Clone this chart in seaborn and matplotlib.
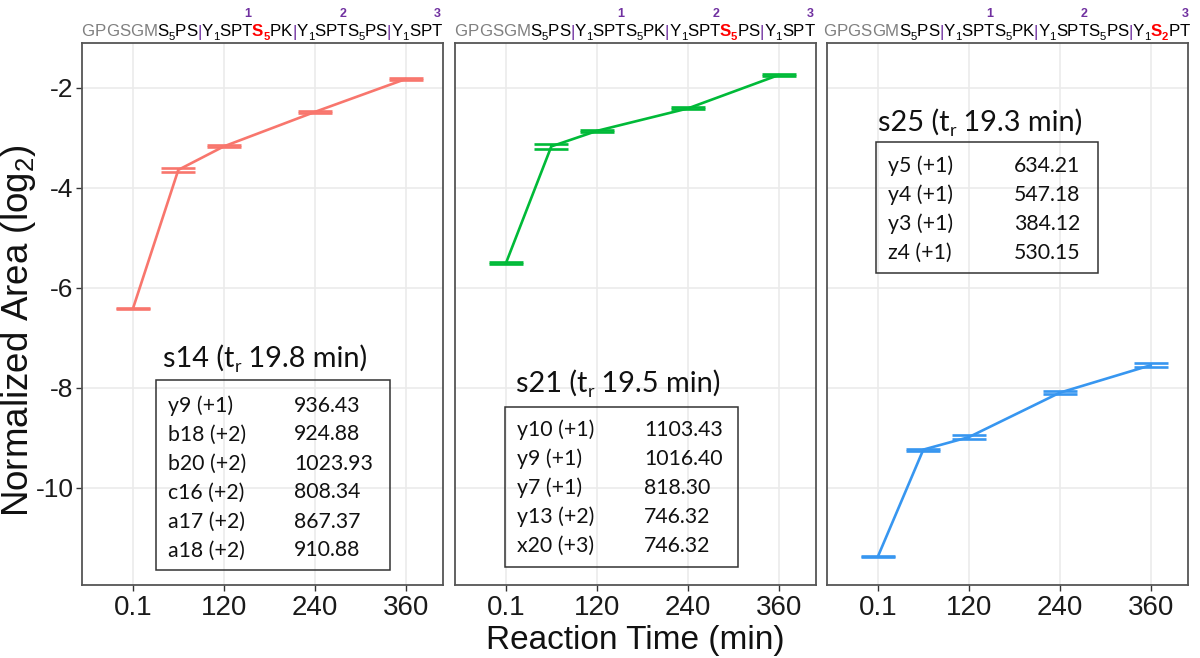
import matplotlib
matplotlib.use("Agg")
import matplotlib.pyplot as plt
import seaborn as sns
import pandas as pd
from matplotlib import font_manager as fm
from matplotlib.patches import Rectangle

# ---------------- data ----------------
times = [0.1, 60, 120, 240, 360]
xticks = [0.1, 120, 240, 360]
xticklabels = ["0.1", "120", "240", "360"]
yticks = [-2, -4, -6, -8, -10]

s14_mean = [-6.42, -3.64, -3.17, -2.48, -1.82]
s14_sd = [0.012, 0.035, 0.02, 0.02, 0.02]
s21_mean = [-5.51, -3.17, -2.86, -2.41, -1.74]
s21_sd = [0.02, 0.05, 0.02, 0.02, 0.02]
s25_mean = [-11.38, -9.24, -8.99, -8.10, -7.55]
s25_sd = [0.012, 0.02, 0.04, 0.035, 0.035]

peptides = ["s14", "s21", "s25"]
ret_times = ["19.8", "19.5", "19.3"]
colors = ["#F8766D", "#00BA38", "#3796F0"]

s14_ions = ["y9 (+1)", "b18 (+2)", "b20 (+2)", "c16 (+2)", "a17 (+2)", "a18 (+2)"]
s14_mz = ["936.43", "924.88", "1023.93", "808.34", "867.37", "910.88"]
s21_ions = ["y10 (+1)", "y9 (+1)", "y7 (+1)", "y13 (+2)", "x20 (+3)"]
s21_mz = ["1103.43", "1016.40", "818.30", "746.32", "746.32"]
s25_ions = ["y5 (+1)", "y4 (+1)", "y3 (+1)", "z4 (+1)"]
s25_mz = ["634.21", "547.18", "384.12", "530.15"]

seq_tokens = ["G", "P", "G", "S", "G", "M", "S5", "P", "S", "|",
              "Y1", "S", "P", "T", "S5", "P", "K", "|",
              "Y1", "S", "P", "T", "S5", "P", "S", "|",
              "Y1", "S", "P", "T"]
n_gray = 6
repeat_marks = {13: "1", 21: "2", 29: "3"}
red_sites = [{14: "S5"}, {22: "S5"}, {27: "S2"}]

# ---------------- fonts ----------------
names = {f.name for f in fm.fontManager.ttflist}
NARROW = "Liberation Sans Narrow" if "Liberation Sans Narrow" in names else "Liberation Sans"
SANS = "Liberation Sans"
INSET = "Lato" if "Lato" in names else "DejaVu Sans"

sns.set_theme(style="whitegrid")
plt.rcParams["font.family"] = [SANS, "DejaVu Sans"]
plt.rcParams["mathtext.fontset"] = "custom"
plt.rcParams["mathtext.rm"] = SANS

W, H = 1200, 658
fig = plt.figure(figsize=(W / 100, H / 100), dpi=100, facecolor="white")
renderer = fig.canvas.get_renderer()


def fx(x):
    return x / W


def fy(y):
    return 1 - y / H


def width_px(t):
    return t.get_window_extent(renderer=renderer).width


# ---------------- panels ----------------
ax_lefts = [82, 455, 827]
ax_w, ax_top, ax_bot = 361, 43, 585
series = [(s14_mean, s14_sd), (s21_mean, s21_sd), (s25_mean, s25_sd)]
axes = []
for i, (left, (mean, sd)) in enumerate(zip(ax_lefts, series)):
    ax = fig.add_axes([fx(left), fy(ax_bot), ax_w / W, (ax_bot - ax_top) / H])
    ax.set_facecolor("white")
    df = pd.DataFrame({"time": times, "value": mean, "sd": sd})
    sns.lineplot(data=df, x="time", y="value", color=colors[i], linewidth=1.9, ax=ax, zorder=3)
    ax.errorbar(df["time"], df["value"], yerr=df["sd"], fmt="none", ecolor=colors[i],
                elinewidth=1.5, capsize=12.5, capthick=1.9, zorder=4)
    ax.set_xlim(-67, 409)
    ax.set_ylim(-11.95, -1.1)
    ax.set_xticks(xticks)
    ax.set_xticklabels(xticklabels, fontfamily=NARROW, fontsize=20, color="#1a1a1a")
    ax.set_yticks(yticks)
    if i == 0:
        ax.set_yticklabels([str(v) for v in yticks], fontsize=19, color="#1a1a1a")
        ax.tick_params(axis="y", length=4, width=1.0, color="#333333", pad=2, left=True)
    else:
        ax.set_yticklabels([])
        ax.tick_params(axis="y", length=0)
    ax.tick_params(axis="x", length=4, width=1.0, color="#333333", pad=3, bottom=True)
    ax.set_xlabel("")
    ax.set_ylabel("")
    ax.grid(True, color="#EBEBEB", linewidth=1.2)
    ax.set_axisbelow(True)
    for sp in ax.spines.values():
        sp.set_visible(True)
        sp.set_color("#555555")
        sp.set_linewidth(1.3)
    axes.append(ax)

# ---------------- sequence titles ----------------
GRAY, BLACK, PURPLE, RED = "#808080", "#000000", "#7030A0", "#FF0000"
MAIN_FS, SUB_FS, NUM_FS = 12.2, 8.2, 9
base_y = 36.5
for i, left in enumerate(ax_lefts):
    pieces = []
    x = 0.0
    mark_x = {}
    for k, tok in enumerate(seq_tokens):
        color, weight = BLACK, "normal"
        label = tok
        if k < n_gray:
            color = GRAY
        if tok == "|":
            color = PURPLE
        if k in red_sites[i]:
            color, weight = RED, "bold"
            label = red_sites[i][k]
        letter, sub = label[0], label[1:]
        t = fig.text(0, fy(base_y), letter, color=color, fontweight=weight,
                     fontsize=MAIN_FS, fontfamily=SANS, va="baseline", ha="left")
        w = width_px(t)
        pieces.append((t, x))
        if k in repeat_marks:
            mark_x[k] = x + w / 2
        x += w
        if sub:
            s = fig.text(0, fy(base_y + 3.5), sub, color=color, fontweight=weight,
                         fontsize=SUB_FS, fontfamily=SANS, va="baseline", ha="left")
            pieces.append((s, x))
            x += width_px(s)
    total = x
    x0 = left + ax_w / 2 - total / 2 - 1
    for t, rx in pieces:
        t.set_x(fx(x0 + rx))
    for k, lab in repeat_marks.items():
        fig.text(fx(x0 + mark_x[k] + 1), fy(17), lab, color=PURPLE, fontweight="bold",
                 fontsize=NUM_FS, fontfamily=SANS, ha="center", va="baseline")

# ---------------- inset tables ----------------
ions = [s14_ions, s21_ions, s25_ions]
mzs = [s14_mz, s21_mz, s25_mz]
title_pos = [(163, 366.5), (516, 392), (878, 131)]
label_x = [168, 517, 888]
value_x = [294, 644, 1014]
row0 = [404, 428, 165]
row_step = [29.0, 29.2, 28.9]
boxes = [(155.7, 380, 390, 570), (505, 406.7, 738.3, 566.7), (875.7, 141.7, 1098, 273)]

TITLE_FS, ROW_FS = 20.8, 15.3
for i in range(3):
    tx, ty = title_pos[i]
    t1 = fig.text(fx(tx), fy(ty), f"{peptides[i]} (t", fontsize=TITLE_FS, fontfamily=INSET,
                  color="#111111", va="baseline", ha="left")
    w1 = width_px(t1)
    t2 = fig.text(fx(tx + w1), fy(ty + 5), "r", fontsize=TITLE_FS * 0.62, fontfamily=INSET,
                  color="#111111", va="baseline", ha="left")
    w2 = width_px(t2)
    fig.text(fx(tx + w1 + w2), fy(ty), f" {ret_times[i]} min)", fontsize=TITLE_FS,
             fontfamily=INSET, color="#111111", va="baseline", ha="left")
    x0, y0, x1, y1 = boxes[i]
    fig.patches.append(Rectangle((fx(x0), fy(y1)), (x1 - x0) / W, (y1 - y0) / H,
                                 transform=fig.transFigure, fill=False,
                                 edgecolor="#333333", linewidth=1.1))
    for r, (ion, mz) in enumerate(zip(ions[i], mzs[i])):
        yb = row0[i] + r * row_step[i] + 7.5
        fig.text(fx(label_x[i]), fy(yb), ion, fontsize=ROW_FS, fontfamily=INSET,
                 color="#111111", va="baseline", ha="left")
        fig.text(fx(value_x[i]), fy(yb), mz, fontsize=ROW_FS, fontfamily=INSET,
                 color="#111111", va="baseline", ha="left")

# ---------------- axis labels ----------------
fig.text(fx(635.5), fy(641), "Reaction Time (min)", fontsize=24, fontfamily=NARROW,
         ha="center", va="center", color="#111111")
fig.text(fx(19), fy(331), r"Normalized Area (log$_{\mathrm{2}}$)", fontsize=26.5,
         rotation=90, ha="center", va="center", color="#111111")

fig.savefig("out.png", dpi=100, facecolor="white")
